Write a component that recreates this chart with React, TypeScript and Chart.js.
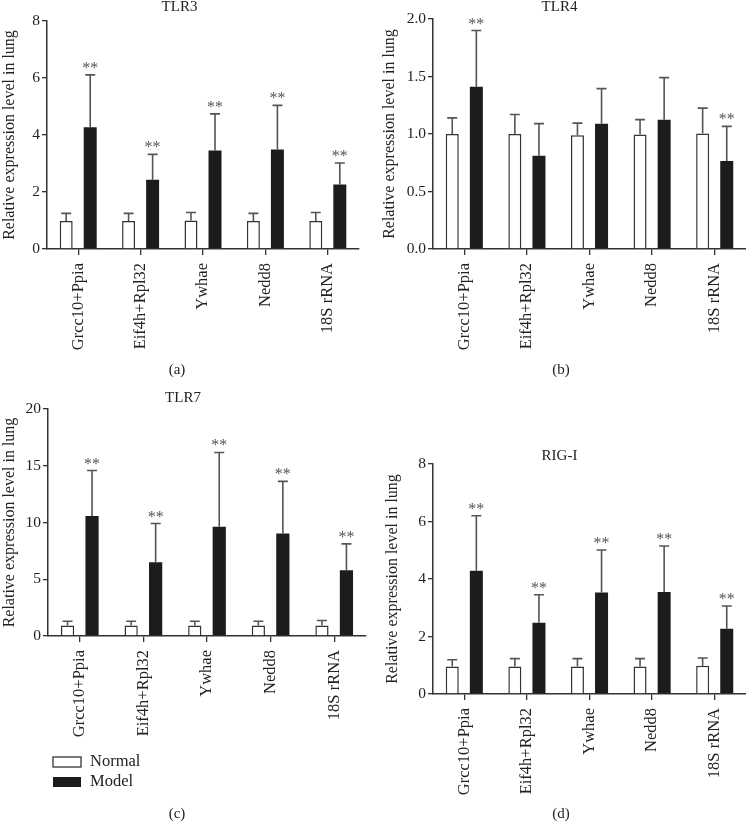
import React, { useEffect, useRef } from "react";
import { Chart, registerables } from "chart.js";
Chart.register(...registerables);

const FONT = "'Liberation Serif', 'Times New Roman', serif";

const categories = ["Grcc10+Ppia", "Eif4h+Rpl32", "Ywhae", "Nedd8", "18S rRNA"];
const seriesNames = ["Normal", "Model"];
const axisTitle = "Relative expression level in lung";

// TLR3
const tlr3Normal = [0.98, 0.98, 1.0, 0.98, 0.98];
const tlr3NormalSd = [0.27, 0.27, 0.28, 0.27, 0.3];
const tlr3Model = [4.27, 2.43, 3.46, 3.49, 2.26];
const tlr3ModelSd = [1.84, 0.89, 1.28, 1.55, 0.76];
const tlr3Stars = [true, true, true, true, true];
const tlr3Ticks = [0, 2, 4, 6, 8];

// TLR4
const tlr4Normal = [1.0, 1.0, 0.99, 0.995, 1.005];
const tlr4NormalSd = [0.14, 0.17, 0.105, 0.13, 0.22];
const tlr4Model = [1.41, 0.81, 1.09, 1.125, 0.766];
const tlr4ModelSd = [0.49, 0.28, 0.305, 0.365, 0.3];
const tlr4Stars = [true, false, false, false, true];
const tlr4Ticks = [0, 0.5, 1.0, 1.5, 2.0];

// TLR7
const tlr7Normal = [0.93, 0.93, 0.93, 0.93, 0.93];
const tlr7NormalSd = [0.37, 0.37, 0.37, 0.37, 0.43];
const tlr7Model = [10.58, 6.49, 9.62, 9.04, 5.8];
const tlr7ModelSd = [4.0, 3.42, 6.55, 4.58, 2.32];
const tlr7Stars = [true, true, true, true, true];
const tlr7Ticks = [0, 5, 10, 15, 20];

// RIG-I
const rigNormal = [0.96, 0.96, 0.96, 0.96, 0.98];
const rigNormalSd = [0.23, 0.27, 0.27, 0.27, 0.27];
const rigModel = [4.29, 2.48, 3.53, 3.55, 2.27];
const rigModelSd = [1.91, 0.97, 1.48, 1.6, 0.79];
const rigStars = [true, true, true, true, true];
const rigTicks = [0, 2, 4, 6, 8];

const panels = [
  { title: "TLR3", sub: "(a)", normal: tlr3Normal, normalSd: tlr3NormalSd, model: tlr3Model, modelSd: tlr3ModelSd, stars: tlr3Stars, ticks: tlr3Ticks, decimals: 0, legend: false },
  { title: "TLR4", sub: "(b)", normal: tlr4Normal, normalSd: tlr4NormalSd, model: tlr4Model, modelSd: tlr4ModelSd, stars: tlr4Stars, ticks: tlr4Ticks, decimals: 1, legend: false },
  { title: "TLR7", sub: "(c)", normal: tlr7Normal, normalSd: tlr7NormalSd, model: tlr7Model, modelSd: tlr7ModelSd, stars: tlr7Stars, ticks: tlr7Ticks, decimals: 0, legend: true },
  { title: "RIG-I", sub: "(d)", normal: rigNormal, normalSd: rigNormalSd, model: rigModel, modelSd: rigModelSd, stars: rigStars, ticks: rigTicks, decimals: 0, legend: false },
];

// layout (canvas rects and chart-area placement)
const layouts = [
  { x: 0, y: 0, w: 373, h: 380, yw: 47, right: 14, titleTop: 0, titleBottom: 6, ytPad: 2, bottomPad: 21, subX: 177, subDy: 121 },
  { x: 373, y: 0, w: 373, h: 440, yw: 60, right: 0, titleTop: 0, titleBottom: 4, ytPad: 9, bottomPad: 81, subX: 188, subDy: 121 },
  { x: 0, y: 380, w: 373, h: 442, yw: 48, right: 7, titleTop: 11, titleBottom: 3, ytPad: 2, bottomPad: 76, subX: 177, subDy: 178 },
  { x: 373, y: 440, w: 373, h: 382, yw: 60, right: 0, titleTop: 9, titleBottom: 0, ytPad: 12, bottomPad: 18, subX: 188, subDy: 120 },
];

const AXIS = "#333333";
const TEXT = "#222222";
const BLACK = "#1c1c1c";

function Panel({ idx }: { idx: number }) {
  const ref = useRef<HTMLCanvasElement | null>(null);
  const p = panels[idx];
  const L = layouts[idx];
  useEffect(() => {
    if (!ref.current) return;
    const sds = [p.normalSd, p.modelSd];
    const starFlags = [p.normal.map(() => false), p.stars];
    const errPlugin = {
      id: "errBars" + idx,
      afterDatasetsDraw(chart: any) {
        const { ctx } = chart;
        const y = chart.scales.y;
        chart.data.datasets.forEach((ds: any, i: number) => {
          const meta = chart.getDatasetMeta(i);
          meta.data.forEach((bar: any, j: number) => {
            const v = ds.data[j];
            const top = y.getPixelForValue(v + sds[i][j]);
            ctx.save();
            ctx.strokeStyle = "#555555";
            ctx.lineWidth = 1.6;
            ctx.beginPath();
            ctx.moveTo(bar.x, bar.y);
            ctx.lineTo(bar.x, top);
            ctx.moveTo(bar.x - 5, top);
            ctx.lineTo(bar.x + 5, top);
            ctx.stroke();
            if (starFlags[i][j]) {
              ctx.fillStyle = "#555555";
              ctx.font = "16px " + FONT;
              ctx.textAlign = "center";
              ctx.textBaseline = "alphabetic";
              ctx.fillText("**", bar.x, top - 2);
            }
            ctx.restore();
          });
        });
      },
    };
    const extraPlugin = {
      id: "extra" + idx,
      afterDraw(chart: any) {
        const { ctx, chartArea } = chart;
        ctx.save();
        ctx.fillStyle = TEXT;
        ctx.font = "15px " + FONT;
        ctx.textAlign = "center";
        ctx.textBaseline = "middle";
        ctx.fillText(p.sub, L.subX, chartArea.bottom + L.subDy);
        if (p.legend) {
          seriesNames.forEach((name, i) => {
            const by = chartArea.bottom + 121 + i * 20;
            if (i === 0) {
              ctx.fillStyle = "#ffffff";
              ctx.fillRect(53, by, 28, 10);
              ctx.strokeStyle = AXIS;
              ctx.lineWidth = 1.3;
              ctx.strokeRect(53, by, 28, 10);
            } else {
              ctx.fillStyle = BLACK;
              ctx.fillRect(53, by, 28, 10);
            }
            ctx.fillStyle = TEXT;
            ctx.font = "16.5px " + FONT;
            ctx.textAlign = "left";
            ctx.textBaseline = "middle";
            ctx.fillText(name, 90, by + 5);
          });
        }
        ctx.restore();
      },
    };
    const yMax = p.ticks[p.ticks.length - 1];
    const step = p.ticks[1] - p.ticks[0];
    const chart = new Chart(ref.current, {
      type: "bar",
      data: {
        labels: categories,
        datasets: [
          { label: seriesNames[0], data: p.normal, backgroundColor: "#ffffff", borderColor: AXIS, borderWidth: 1.5, categoryPercentage: 0.77, barPercentage: 0.54 },
          { label: seriesNames[1], data: p.model, backgroundColor: BLACK, borderColor: BLACK, borderWidth: 0, categoryPercentage: 0.77, barPercentage: 0.54 },
        ],
      },
      options: {
        responsive: false,
        animation: false,
        layout: { padding: { left: 0, top: 0, right: L.right, bottom: L.bottomPad } },
        plugins: {
          legend: { display: false },
          tooltip: { enabled: false },
          title: {
            display: true,
            text: p.title,
            color: TEXT,
            font: { family: FONT, size: 15, lineHeight: 1, weight: "normal" },
            padding: { top: L.titleTop, bottom: L.titleBottom },
          },
        },
        scales: {
          x: {
            offset: true,
            grid: { display: true, drawOnChartArea: false, drawTicks: true, tickLength: 6, offset: false, color: AXIS, lineWidth: 1.3 },
            border: { display: true, color: AXIS, width: 1.5 },
            ticks: { autoSkip: false, maxRotation: 90, minRotation: 90, padding: 8, color: TEXT, font: { family: FONT, size: 16.5 } },
            afterFit: (s: any) => { s.height = 110; s.paddingLeft = 0; s.paddingRight = 0; },
          },
          y: {
            min: 0,
            max: yMax,
            grid: { display: true, drawOnChartArea: false, drawTicks: true, tickLength: 5, color: AXIS, lineWidth: 1.3 },
            border: { display: true, color: AXIS, width: 1.5 },
            ticks: {
              stepSize: step,
              padding: 2,
              color: TEXT,
              font: { family: FONT, size: 15.5 },
              callback: (v: any) => (p.decimals ? Number(v).toFixed(p.decimals) : String(v)),
            },
            title: {
              display: true,
              text: axisTitle,
              color: TEXT,
              font: { family: FONT, size: 16, lineHeight: 1 },
              padding: { top: L.ytPad, bottom: 0 },
            },
            afterFit: (s: any) => { s.width = L.yw; s.paddingTop = 0; s.paddingBottom = 0; },
          },
        },
      },
      plugins: [errPlugin, extraPlugin],
    } as any);
    return () => chart.destroy();
  }, []);
  return (
    <canvas
      ref={ref}
      width={L.w}
      height={L.h}
      style={{ position: "absolute", left: L.x, top: L.y, width: L.w, height: L.h }}
    />
  );
}

export default function App() {
  return (
    <div style={{ position: "absolute", left: 0, top: 0, width: 746, height: 822, background: "#ffffff" }}>
      {panels.map((_, i) => (
        <Panel key={i} idx={i} />
      ))}
    </div>
  );
}
